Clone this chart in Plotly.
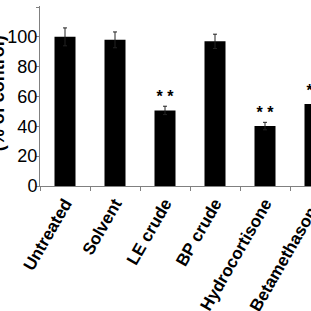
import plotly.graph_objects as go

categories = ["Untreated", "Solvent", "LE crude", "BP crude", "Hydrocortisone", "Betamethasone"]
values = [100, 98, 50.7, 97, 40.2, 55]
errors = [6, 5.3, 2.8, 4.8, 2.5, 3]
marks = ["", "", "* *", "", "* *", "* *"]
y_title = "(% of control)"

FONT = "Liberation Sans, Arial, sans-serif"
W = 340

fig = go.Figure()
fig.add_trace(go.Bar(
    x=categories, y=values, width=0.42,
    marker=dict(color="black", line=dict(width=0)),
    error_y=dict(type="data", array=errors, visible=True, color="#222222", thickness=1, width=2),
))
fig.add_trace(go.Scatter(
    x=categories, y=[v + e for v, e in zip(values, errors)],
    mode="text", text=marks, textposition="top center",
    textfont=dict(family=FONT, size=16, color="black", weight="bold"),
    cliponaxis=True, hoverinfo="skip",
))
fig.add_annotation(
    text="<b>" + y_title + "</b>", xref="paper", yref="paper",
    x=-0.1, y=0.515, xanchor="right", yanchor="middle",
    textangle=-90, showarrow=False,
    font=dict(family=FONT, size=18, color="black"),
)
fig.update_layout(
    width=W, height=311,
    margin=dict(l=40, r=0, t=6, b=125, autoexpand=False),
    paper_bgcolor="white", plot_bgcolor="white",
    showlegend=False,
    font=dict(family=FONT, color="black"),
)
fig.update_xaxes(
    type="category", range=[-0.5, 5.5], automargin=False,
    showline=True, linecolor="#808080", linewidth=1,
    ticks="outside", tickson="boundaries", ticklen=4, tickcolor="#808080",
    tickangle=-60, tickfont=dict(family=FONT, size=17, color="black", weight="bold"),
    showgrid=False, zeroline=False,
)
fig.update_yaxes(
    range=[0, 120.7], dtick=20, automargin=False,
    showline=True, linecolor="#808080", linewidth=1,
    ticks="outside", ticklen=3, tickcolor="#808080", ticklabelstandoff=-5,
    tickfont=dict(family=FONT, size=18, color="black"),
    showgrid=False, zeroline=False,
)
fig.write_html("out.html")
